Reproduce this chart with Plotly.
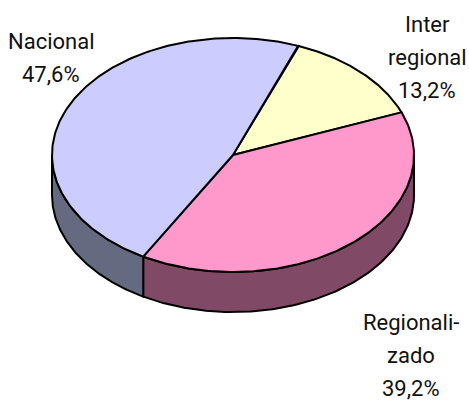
import numpy as np
import plotly.graph_objects as go

categories = [["Inter", "regional"], ["Regionali-", "zado"], ["Nacional"]]
values = [13.2, 39.2, 47.6]
value_labels = ["13,2%", "39,2%", "47,6%"]
top_colors = ["#FFFFCC", "#FF99CC", "#CCCCFF"]
side_colors = ["#80805F", "#804A66", "#666A80"]
label_x = [427, 411, 51]
label_first_y = [24, 322, 41]
LINE_STEP = 33

CX, CY, RX, RY, DEPTH, START = 233, 155, 181, 117, 40, 21.1


def ellipse_xy(deg):
    a = np.radians(deg)
    return CX + RX * np.sin(a), CY - RY * np.cos(a)


fig = go.Figure()
edges = START + np.concatenate([[0], np.cumsum(values)]) * 3.6

# Side wall: only the front half of the ellipse (90..270 degrees from top) is visible
for i in range(len(values)):
    lo, hi = max(edges[i], 90), min(edges[i + 1], 270)
    if hi <= lo:
        continue
    t = np.linspace(lo, hi, 120)
    x, y = ellipse_xy(t)
    fig.add_trace(go.Scatter(
        x=np.concatenate([x, x[::-1], x[:1]]),
        y=np.concatenate([y, (y + DEPTH)[::-1], y[:1]]),
        mode="lines", fill="toself", fillcolor=side_colors[i],
        line=dict(color="black", width=2), hoverinfo="skip", showlegend=False))

# Top face
for i in range(len(values)):
    t = np.linspace(edges[i], edges[i + 1], 200)
    x, y = ellipse_xy(t)
    fig.add_trace(go.Scatter(
        x=np.concatenate([[CX], x, [CX]]),
        y=np.concatenate([[CY], y, [CY]]),
        mode="lines", fill="toself", fillcolor=top_colors[i],
        line=dict(color="black", width=2), hoverinfo="skip", showlegend=False))

for c, v, lx, ly in zip(categories, value_labels, label_x, label_first_y):
    for j, line in enumerate(c + [v]):
        fig.add_annotation(x=lx, y=ly + j * LINE_STEP, text=line, showarrow=False,
                           xanchor="center", yanchor="middle",
                           font=dict(family="Roboto, Liberation Sans, Arial", size=22, color="#111111"))

fig.update_layout(
    width=469, height=400, margin=dict(l=0, r=0, t=0, b=0),
    paper_bgcolor="white", plot_bgcolor="white", showlegend=False,
    xaxis=dict(range=[0, 469], visible=False, fixedrange=True),
    yaxis=dict(range=[400, 0], visible=False, fixedrange=True),
)
fig.write_html("out.html", config={"displayModeBar": False},
               post_script="document.body.style.margin='0';document.body.style.overflow='hidden';")
